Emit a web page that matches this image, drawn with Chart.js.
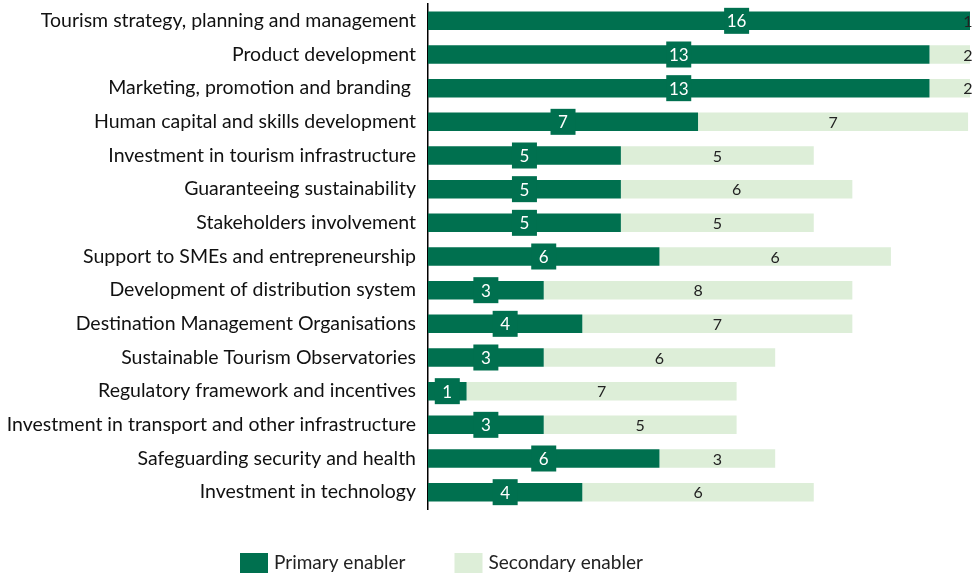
<!DOCTYPE html>
<html>
<head>
<meta charset="utf-8">
<script src="https://cdn.jsdelivr.net/npm/chart.js@4"></script>
<style>
  html, body { margin: 0; padding: 0; background: #fff; }
  #wrap { width: 978px; height: 576px; position: relative; }
</style>
</head>
<body>
<div id="wrap"><canvas id="enablers"></canvas></div>
<script>
const categories = [
  'Tourism strategy, planning and management',
  'Product development',
  'Marketing, promotion and branding ',
  'Human capital and skills development',
  'Investment in tourism infrastructure',
  'Guaranteeing sustainability',
  'Stakeholders involvement',
  'Support to SMEs and entrepreneurship',
  'Development of distribution system',
  'Destination Management Organisations',
  'Sustainable Tourism Observatories',
  'Regulatory framework and incentives',
  'Investment in transport and other infrastructure',
  'Safeguarding security and health',
  'Investment in technology'
];
const primaryEnabler   = [16, 13, 13, 7, 5, 5, 5, 6, 3, 4, 3, 1, 3, 6, 4];
const secondaryEnabler = [1, 2, 2, 7, 5, 6, 5, 6, 8, 7, 6, 7, 5, 3, 6];

const DARK = '#00704f';
const LIGHT = '#ddeed8';
const FONT = "Lato, 'Open Sans', sans-serif";

// value labels: boxed white numbers on primary, plain numbers on secondary
const valueLabels = {
  id: 'valueLabels',
  afterDatasetsDraw(chart) {
    const { ctx, chartArea, scales: { x } } = chart;
    ctx.save();
    ctx.textAlign = 'center';
    ctx.textBaseline = 'middle';
    chart.data.datasets.forEach((ds, di) => {
      const meta = chart.getDatasetMeta(di);
      meta.data.forEach((bar, i) => {
        const v = ds.data[i];
        const start = di === 0 ? 0 : primaryEnabler[i];
        let cx = x.getPixelForValue(start + v / 2);
        cx = Math.min(cx, chartArea.right - 2);
        const cy = bar.y;
        if (di === 0) {
          ctx.fillStyle = DARK;
          ctx.fillRect(cx - 12.5, cy - 13, 25, 26);
          ctx.fillStyle = '#ffffff';
          ctx.font = `17px ${FONT}`;
        } else {
          ctx.fillStyle = '#222';
          ctx.font = `16px ${FONT}`;
        }
        ctx.fillText(String(v), cx, cy + 1);
      });
    });
    ctx.restore();
  }
};

// legend drawn under the plot
const bottomLegend = {
  id: 'bottomLegend',
  afterDraw(chart) {
    const { ctx } = chart;
    ctx.save();
    ctx.font = `19px ${FONT}`;
    ctx.textBaseline = 'middle';
    ctx.textAlign = 'left';
    let lx = 240;
    const ly = 563;
    chart.data.datasets.forEach(ds => {
      ctx.fillStyle = ds.backgroundColor;
      ctx.fillRect(lx, ly - 10, 28, 20);
      ctx.fillStyle = '#222';
      ctx.fillText(ds.label, lx + 34, ly);
      lx += 34 + ctx.measureText(ds.label).width + 49;
    });
    ctx.restore();
  }
};

new Chart(document.getElementById('enablers'), {
  type: 'bar',
  data: {
    labels: categories,
    datasets: [
      { label: 'Primary enabler', data: primaryEnabler, backgroundColor: DARK,
        barPercentage: 0.55, categoryPercentage: 1 },
      { label: 'Secondary enabler', data: secondaryEnabler, backgroundColor: LIGHT,
        barPercentage: 0.55, categoryPercentage: 1 }
    ]
  },
  options: {
    indexAxis: 'y',
    responsive: true,
    maintainAspectRatio: false,
    animation: false,
    layout: { padding: { top: 4, right: 8, bottom: 67, left: 0 } },
    scales: {
      x: {
        stacked: true,
        min: 0,
        max: 14.05,
        display: false
      },
      y: {
        stacked: true,
        grid: { display: false, drawTicks: false },
        border: { display: true, color: '#000', width: 1.5 },
        ticks: {
          color: '#111',
          padding: 12,
          font: { family: FONT, size: 19.5 }
        },
        afterFit(scale) {
          scale.width = 428;
          scale.paddingTop = 0;
          scale.paddingBottom = 0;
        }
      }
    },
    plugins: {
      legend: { display: false },
      tooltip: { enabled: false }
    }
  },
  plugins: [valueLabels, bottomLegend]
});
</script>
</body>
</html>
